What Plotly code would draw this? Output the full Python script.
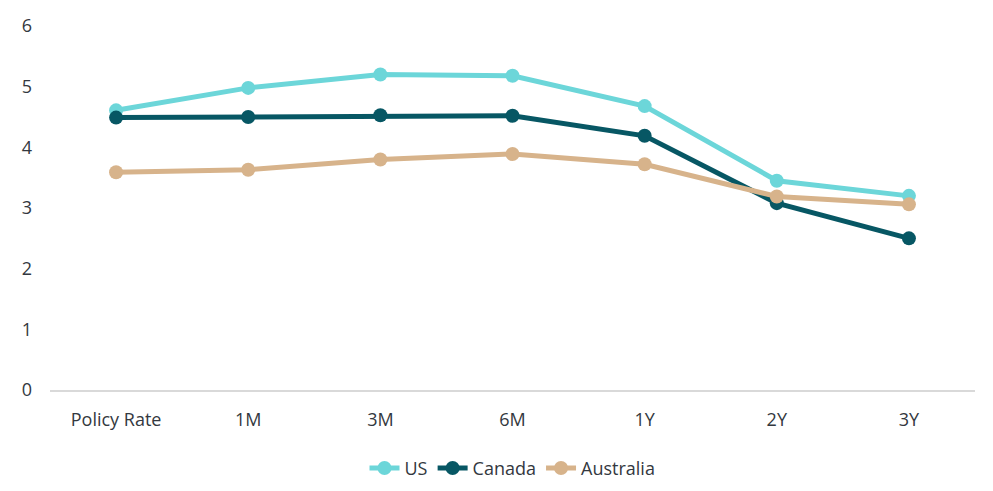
import plotly.graph_objects as go

categories = ["Policy Rate", "1M", "3M", "6M", "1Y", "2Y", "3Y"]
us = [4.61, 4.98, 5.20, 5.18, 4.68, 3.45, 3.20]
canada = [4.49, 4.50, 4.53, 4.52, 4.19, 3.08, 2.50]
australia = [3.59, 3.63, 3.80, 3.89, 3.72, 3.19, 3.06]

series = [("US", us, "#6cd6d9"), ("Canada", canada, "#075764"), ("Australia", australia, "#d7b38b")]

fig = go.Figure()
for name, vals, col in series:
    fig.add_trace(go.Scatter(x=categories, y=vals, name=name, mode="lines+markers",
                             line=dict(color=col, width=5),
                             marker=dict(color=col, size=14)))

fig.update_layout(
    width=993, height=491,
    paper_bgcolor="white", plot_bgcolor="white",
    margin=dict(l=42, r=26, t=18, b=109),
    font=dict(family="Open Sans", size=18, color="#333840"),
    showlegend=True,
    legend=dict(orientation="h", x=0.5, xanchor="center", y=-0.215, yanchor="middle",
                font=dict(size=18), tracegroupgap=0),
    xaxis=dict(type="category", range=[-0.5, 6.5], showgrid=False, zeroline=False,
               showline=True, linecolor="#d9d9d9", linewidth=2,
               ticks="", ticklabelstandoff=12, automargin=False),
    yaxis=dict(range=[0, 6], dtick=1, showgrid=False, zeroline=False, showline=False,
               ticks="", ticklabelstandoff=17, automargin=False),
)

fig.write_html("out.html")
